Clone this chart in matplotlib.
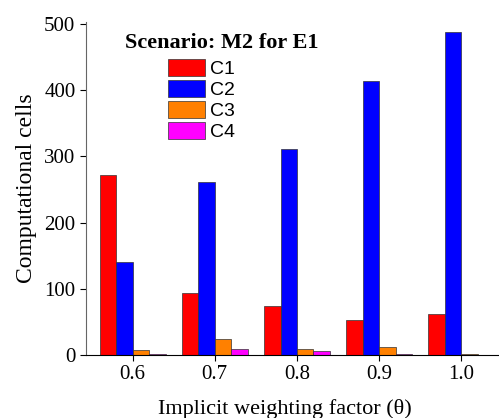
import matplotlib
matplotlib.use("Agg")
import matplotlib.pyplot as plt
import numpy as np

factors = ["0.6", "0.7", "0.8", "0.9", "1.0"]
theta = [0.6, 0.7, 0.8, 0.9, 1.0]
c1 = [272, 94, 74, 52, 62]
c2 = [141, 262, 311, 414, 488]
c3 = [7.5, 23.5, 9, 11.5, 1.5]
c4 = [1.5, 9, 5.5, 1, 0.5]
series = ["C1", "C2", "C3", "C4"]
colors = ["#ff0000", "#0000ff", "#ff8000", "#ff00ff"]


def main():
    plt.rcParams["font.family"] = "Liberation Serif"
    fig = plt.figure(figsize=(4.99, 4.18), dpi=100)
    ax = fig.add_axes([0.172, 0.151, 0.828, 0.796])

    w = 0.02
    x = np.array(theta)
    handles = []
    for i, (vals, color, name) in enumerate(zip([c1, c2, c3, c4], colors, series)):
        b = ax.bar(x + (i - 1.5) * w, vals, width=w, color=color,
                   edgecolor="#333333", linewidth=0.5, label=name)
        handles.append(b)

    ax.set_xlim(0.543, 1.046)
    ax.set_ylim(0, 503)
    ax.set_xticks(theta)
    ax.set_xticklabels(factors)
    ax.set_yticks([0, 100, 200, 300, 400, 500])
    ax.tick_params(labelsize=15, direction="out", length=4, width=0.8)
    for s in ["top", "right"]:
        ax.spines[s].set_visible(False)
    ax.spines["left"].set_color("#666666")

    ax.set_ylabel("Computational cells", fontsize=17, labelpad=5)
    ax.set_xlabel("Implicit weighting factor (θ)", fontsize=16, labelpad=10.5)
    ax.xaxis.label.set_x(0.482)

    ax.text(0.094, 0.938, "Scenario: M2 for E1", transform=ax.transAxes,
            fontsize=16, fontweight="bold", va="center")
    ax.legend(handles=handles, loc="upper left", bbox_to_anchor=(0.1985, 0.89),
              frameon=False, handlelength=1.9, handleheight=0.95,
              labelspacing=0.1, handletextpad=0.25, borderaxespad=0,
              borderpad=0, prop={"family": "Liberation Sans", "size": 14})

    fig.savefig("out.png", dpi=100)


if __name__ == "__main__":
    main()
